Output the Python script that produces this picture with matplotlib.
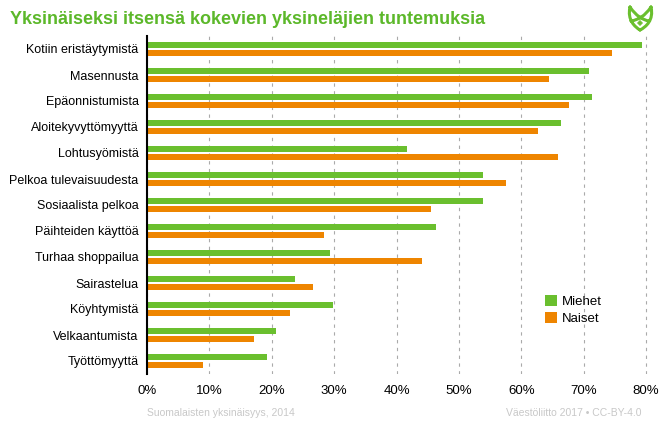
import matplotlib.pyplot as plt
import numpy as np
from matplotlib.path import Path
from matplotlib.patches import PathPatch

plt.rcParams['font.family'] = ['Liberation Sans', 'DejaVu Sans']

categories = ['Kotiin eristäytymistä', 'Masennusta', 'Epäonnistumista',
              'Aloitekyvyttömyyttä', 'Lohtusyömistä', 'Pelkoa tulevaisuudesta',
              'Sosiaalista pelkoa', 'Päihteiden käyttöä', 'Turhaa shoppailua',
              'Sairastelua', 'Köyhtymistä', 'Velkaantumista', 'Työttömyyttä']
miehet = [79.3, 70.8, 71.3, 66.3, 41.6, 53.8, 53.8, 46.3, 29.4, 23.8, 29.8, 20.7, 19.2]
naiset = [74.5, 64.5, 67.6, 62.7, 65.9, 57.5, 45.5, 28.4, 44.0, 26.6, 23.0, 17.1, 8.9]
xticks = [0, 10, 20, 30, 40, 50, 60, 70, 80]

green = '#6abf2e'
orange = '#ee8500'

fig = plt.figure(figsize=(6.62, 4.38), dpi=100)
ax = fig.add_axes([147 / 662, 1 - 374 / 438, (648 - 147) / 662, (374 - 36) / 438])

y = np.arange(len(categories))
h = 0.23
ax.barh(y - 0.155, miehet, height=h, color=green, label='Miehet', zorder=3)
ax.barh(y + 0.155, naiset, height=h, color=orange, label='Naiset', zorder=3)

ax.set_ylim(len(categories) - 0.5, -0.5)
ax.set_xlim(0, 80.3)
ax.set_yticks(y)
ax.set_yticklabels(categories, fontsize=9)
ax.set_xticks(xticks)
ax.set_xticklabels([f'{t}%' for t in xticks], fontsize=9.5)
ax.tick_params(axis='y', length=0, pad=6)
ax.tick_params(axis='x', length=0, pad=8)

for s in ['top', 'right', 'bottom']:
    ax.spines[s].set_visible(False)
ax.spines['left'].set_linewidth(1.5)
ax.spines['left'].set_color('black')
ax.spines['left'].set_zorder(4)

ax.grid(axis='x', linestyle=(0, (3, 4)), color='#aaaaaa', linewidth=0.8, zorder=0)
ax.grid(axis='y', visible=False)

leg = ax.legend(loc='lower left', bbox_to_anchor=(0.77, 0.11), frameon=False,
                fontsize=9.5, handlelength=0.9, handleheight=0.9, handletextpad=0.4,
                labelspacing=0.3)

fig.text(10 / 662, 1 - 20 / 438, 'Yksinäiseksi itsensä kokevien yksineläjien tuntemuksia',
         fontsize=13, fontweight='bold', color='#5cb82a', va='center', ha='left')
fig.text(147 / 662, 1 - 413 / 438, 'Suomalaisten yksinäisyys, 2014', fontsize=7.5,
         color='#c8c8c8', va='center', ha='left')
fig.text(642 / 662, 1 - 413 / 438, 'Väestöliitto 2017 • CC-BY-4.0', fontsize=7.5,
         color='#c8c8c8', va='center', ha='right')

# logo sketch top right
def P(px, py):
    return (px / 662, 1 - py / 438)
verts = [P(630, 7), P(627, 20), P(635, 27), P(640, 30),
         P(651, 7), P(654, 20), P(646, 27), P(640, 30),
         P(630, 7), P(636, 16), P(643, 20), P(649, 21),
         P(651, 7), P(645, 16), P(638, 20), P(631, 21)]
codes = [Path.MOVETO, Path.CURVE4, Path.CURVE4, Path.CURVE4] * 4
logo = PathPatch(Path(verts, codes), transform=fig.transFigure, fill=False,
                 edgecolor=green, lw=2.2, capstyle='round')
fig.add_artist(logo)
dot = [P(640, 20.5), P(642.5, 23), P(640, 25.5), P(637.5, 23), P(640, 20.5)]
fig.add_artist(PathPatch(Path(dot), transform=fig.transFigure, facecolor=green,
                         edgecolor=green, lw=0.5))

fig.savefig('out.png', dpi=100)
